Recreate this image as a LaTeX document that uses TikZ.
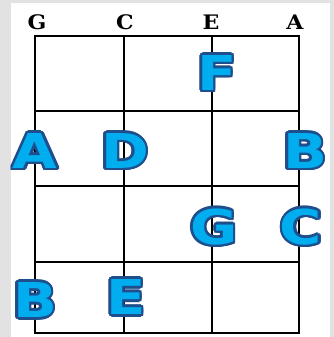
\documentclass[tikz,border=0pt]{standalone}
\usepackage{fontspec}
\usetikzlibrary{calc}
\newfontfamily\bigsans{DejaVu Sans}
\newfontfamily\labserif{DejaVu Serif}
\definecolor{lfill}{HTML}{00AEEF}
\definecolor{lline}{HTML}{1F4E8C}
\definecolor{bggray}{HTML}{E2E2E2}
\tikzset{
  bigletter/.style={inner sep=0pt, font=\bigsans\bfseries\fontsize{48}{48}\selectfont, xscale=1.2},
  strlabel/.style={inner sep=0pt, anchor=base, font=\labserif\bfseries\fontsize{20}{20}\selectfont, xscale=1.1},
  gridline/.style={line width=2.8pt, black}
}
\newcommand\fretletter[3]{%
  \foreach \a in {0,22.5,...,337.5}{\node[bigletter,text=lline] at ($(#2)+(\a:2.5)$) {#3};}
  \node[bigletter,text=lfill] (#1) at (#2) {#3};}
\begin{document}
\begin{tikzpicture}[x=1pt,y=-1pt]
\fill[bggray] (0,0) rectangle (334,337);
\fill[white] (11,3) rectangle (330,337);
\useasboundingbox (0,0) rectangle (334,337);
% grid
\draw[gridline] (35,36) rectangle (299,333);
\draw[gridline] (124,36) -- (124,333) (212,36) -- (212,333);
\draw[gridline] (35,111) -- (299,111) (35,186) -- (299,186) (35,262) -- (299,262);
% string labels
\node[strlabel] (sG) at (37,30) {G};
\node[strlabel] (sC) at (125,30) {C};
\node[strlabel] (sE) at (211,30) {E};
\node[strlabel] (sA) at (295,30) {A};
% notes
\coordinate (pF) at (217,73);
\coordinate (pA) at (35,151);
\coordinate (pD) at (125,151);
\coordinate (pB) at (305,151);
\coordinate (pG) at (214,227);
\coordinate (pC) at (301,227);
\coordinate (pB2) at (35,300);
\coordinate (pE) at (126,297);
\fretletter{nF}{pF}{F}
\fretletter{nA}{pA}{A}
\fretletter{nD}{pD}{D}
\fretletter{nB}{pB}{B}
\fretletter{nG}{pG}{G}
\fretletter{nC}{pC}{C}
\fretletter{nB2}{pB2}{B}
\fretletter{nE}{pE}{E}
\end{tikzpicture}
\end{document}
